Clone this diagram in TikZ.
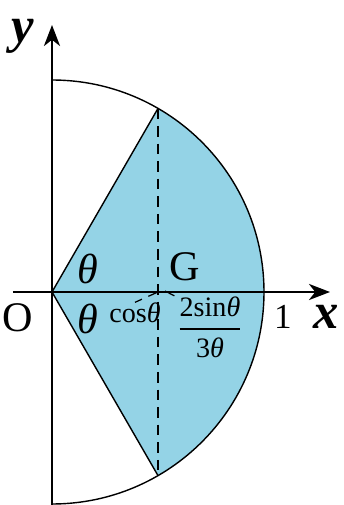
\documentclass[tikz,border=0pt]{standalone}
\usepackage{fontspec}
\setmainfont{Liberation Serif}
\usetikzlibrary{arrows.meta}
\definecolor{sectorblue}{RGB}{148,211,230}

\begin{document}
\begin{tikzpicture}[
  axis/.style  = {line width=0.6pt, -{Stealth[length=6pt,width=4.6pt,inset=1.8pt]}},
  rim/.style   = {line width=0.4pt},
  guide/.style = {densely dashed, line width=0.35pt},
  lbl/.style   = {inner sep=0pt, font=\large},
  small/.style = {inner sep=0pt, font=\footnotesize},
  axlbl/.style = {inner sep=0pt, font=\Large\bfseries\itshape}
]
  \useasboundingbox (-0.52,-2.13) rectangle (2.91,2.92);

  % sector
  \fill[sectorblue] (0,0) -- (60:2.12) arc[start angle=60, end angle=-60, radius=2.12] -- cycle;
  \draw[rim] (0,2.12) arc[start angle=90, end angle=-90, radius=2.12];
  \draw[rim] (60:2.12) -- (0,0) -- (-60:2.12);
  \draw[guide] (60:2.12) -- (-60:2.12);

  % axes
  \draw[axis] (-0.39,0) -- (2.78,0);
  \draw[axis] (0,-2.13) -- (0,2.67);

  \node[axlbl] (ylab) at (-0.29,2.56) {y};
  \node[axlbl] (xlab) at (2.74,-0.25) {x};
  \node[lbl] (orig) at (-0.34,-0.26) {O};
  \node[lbl] (one)  at (2.31,-0.25) {\normalsize 1};
  \node[lbl] (thup) at (0.36,0.23) {\textit{θ}};
  \node[lbl] (thdn) at (0.36,-0.27) {\textit{θ}};
  \node[lbl] (G)    at (1.33,0.25) {G};
  \node[small] (cos) at (0.83,-0.21) {cos\textit{θ}};
  \node[small] (frac) at (1.58,-0.35) {$\displaystyle\frac{\textrm{2sin}\textit{θ}}{\textrm{3}\textit{θ}}$};

  % leaders
  \coordinate (foot) at (1.06,0);
  \coordinate (cg) at (1.13,0.01);
  \draw[guide] (foot) -- (cos.north);
  \draw[guide] (cg) -- (frac.north west);
\end{tikzpicture}
\end{document}
